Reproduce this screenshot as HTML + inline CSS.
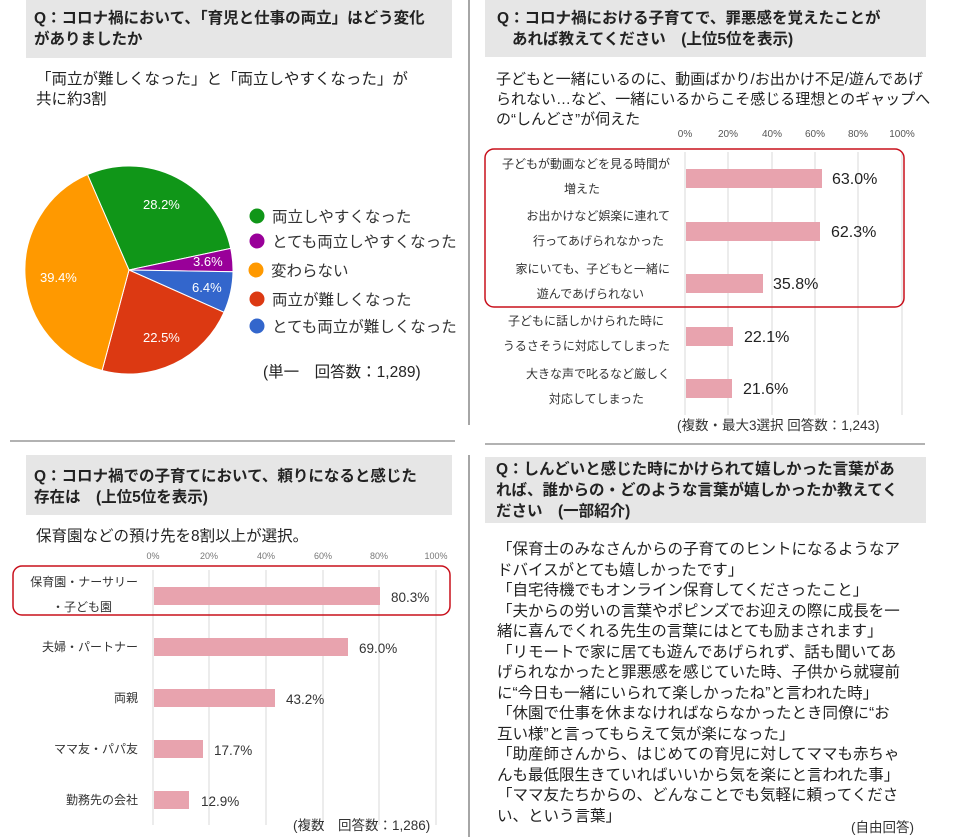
<!DOCTYPE html>
<html><head><meta charset="utf-8"><style>
html,body{margin:0;padding:0;background:#fff;width:965px;height:837px;overflow:hidden}
svg{display:block;font-family:"Liberation Sans","Noto Sans CJK JP",sans-serif}
.h{font-weight:bold;font-size:15.5px;fill:#222}
.s{font-size:15.5px;fill:#222}
.l{font-size:12px;fill:#333}
.t{font-size:10px;fill:#555}
.v{font-size:16px;fill:#222}
.v2{font-size:13.5px;fill:#333}
</style></head><body>
<svg width="965" height="837" viewBox="0 0 965 837">
<line x1="469" y1="0" x2="469" y2="425" stroke="#888" stroke-width="1.5"/>
<line x1="469" y1="455" x2="469" y2="837" stroke="#888" stroke-width="1.5"/>
<line x1="10" y1="441" x2="455" y2="441" stroke="#666" stroke-width="1"/>
<line x1="485" y1="444" x2="925" y2="444" stroke="#666" stroke-width="1"/>

<rect x="26" y="0" width="426" height="58" fill="#e6e6e6"/>
<text class="h" x="34" y="23">Q：コロナ禍において、「育児と仕事の両立」はどう変化</text>
<text class="h" x="34" y="44">がありましたか</text>
<text class="s" x="36" y="84">「両立が難しくなった」と「両立しやすくなった」が</text>
<text class="s" x="36" y="104">共に約3割</text>
<g stroke="#fff" stroke-width="1">
<path d="M129,270 L87.5,174.6 A104,104 0 0 1 230.7,248.4 Z" fill="#109618"/>
<path d="M129,270 L230.7,248.4 A104,104 0 0 1 233,271.8 Z" fill="#990099"/>
<path d="M129,270 L233,271.8 A104,104 0 0 1 224,312.3 Z" fill="#3366cc"/>
<path d="M129,270 L224,312.3 A104,104 0 0 1 102.1,370.5 Z" fill="#dc3912"/>
<path d="M129,270 L102.1,370.5 A104,104 0 0 1 87.5,174.6 Z" fill="#ff9900"/>
</g>
<g font-size="13px" fill="#fff">
<text x="143" y="209">28.2%</text>
<text x="193" y="266">3.6%</text>
<text x="192" y="292">6.4%</text>
<text x="143" y="342">22.5%</text>
<text x="40" y="282">39.4%</text>
</g>
<circle cx="257" cy="216" r="7.5" fill="#109618"/>
<circle cx="257" cy="241" r="7.5" fill="#990099"/>
<circle cx="256" cy="270" r="7.5" fill="#ff9900"/>
<circle cx="257" cy="299" r="7.5" fill="#dc3912"/>
<circle cx="257" cy="326" r="7.5" fill="#3366cc"/>
<g class="s" style="fill:#333">
<text x="272" y="222">両立しやすくなった</text>
<text x="272" y="247">とても両立しやすくなった</text>
<text x="271" y="276">変わらない</text>
<text x="272" y="305">両立が難しくなった</text>
<text x="272" y="332">とても両立が難しくなった</text>
</g>
<text class="s" x="263" y="377">(単一　回答数：1,289)</text>

<rect x="485" y="0" width="441" height="57" fill="#e6e6e6"/>
<text class="h" x="497" y="23">Q：コロナ禍における子育てで、罪悪感を覚えたことが</text>
<text class="h" x="512" y="44">あれば教えてください　(上位5位を表示)</text>
<g style="font-size:15px;fill:#222">
<text x="496" y="84">子どもと一緒にいるのに、動画ばかり/お出かけ不足/遊んであげ</text>
<text x="496" y="104">られない…など、一緒にいるからこそ感じる理想とのギャップへ</text>
<text x="496" y="124">の“しんどさ”が伺えた</text>
</g>
<g class="t" text-anchor="middle">
<text x="685" y="137">0%</text><text x="728" y="137">20%</text><text x="772" y="137">40%</text><text x="815" y="137">60%</text><text x="858" y="137">80%</text><text x="902" y="137">100%</text>
</g>
<g stroke="#d9d9d9" stroke-width="1">
<line x1="685" y1="152" x2="685" y2="415"/><line x1="728" y1="152" x2="728" y2="415"/><line x1="772" y1="152" x2="772" y2="415"/><line x1="815" y1="152" x2="815" y2="415"/><line x1="858" y1="152" x2="858" y2="415"/><line x1="902" y1="152" x2="902" y2="415"/>
</g>
<g fill="#e8a3ae">
<rect x="686" y="169" width="136" height="19"/>
<rect x="686" y="222" width="134" height="19"/>
<rect x="686" y="274" width="77" height="19"/>
<rect x="686" y="327" width="47" height="19"/>
<rect x="686" y="379" width="46" height="19"/>
</g>
<g class="v">
<text x="832" y="184">63.0%</text>
<text x="831" y="237">62.3%</text>
<text x="773" y="289">35.8%</text>
<text x="744" y="342">22.1%</text>
<text x="743" y="394">21.6%</text>
</g>
<g class="l" text-anchor="end">
<text x="670" y="168">子どもが動画などを見る時間が</text>
<text x="600" y="193">増えた</text>
<text x="670" y="220">お出かけなど娯楽に連れて</text>
<text x="664" y="245">行ってあげられなかった</text>
<text x="670" y="273">家にいても、子どもと一緒に</text>
<text x="644" y="298">遊んであげられない</text>
<text x="664" y="325">子どもに話しかけられた時に</text>
<text x="670" y="350">うるさそうに対応してしまった</text>
<text x="670" y="378">大きな声で叱るなど厳しく</text>
<text x="644" y="403">対応してしまった</text>
</g>
<rect x="485" y="149" width="419" height="158" rx="9" fill="none" stroke="#c8101c" stroke-width="1.5"/>
<text class="v2" x="677" y="430">(複数・最大3選択 回答数：1,243)</text>

<rect x="26" y="455" width="426" height="60" fill="#e6e6e6"/>
<text class="h" x="34" y="481">Q：コロナ禍での子育てにおいて、頼りになると感じた</text>
<text class="h" x="34" y="502">存在は　(上位5位を表示)</text>
<text class="s" x="36" y="541">保育園などの預け先を8割以上が選択。</text>
<g class="t" text-anchor="middle" style="font-size:9px;fill:#777">
<text x="153" y="559">0%</text><text x="209" y="559">20%</text><text x="266" y="559">40%</text><text x="323" y="559">60%</text><text x="379" y="559">80%</text><text x="436" y="559">100%</text>
</g>
<g stroke="#d9d9d9" stroke-width="1">
<line x1="153" y1="570" x2="153" y2="825"/><line x1="209" y1="570" x2="209" y2="825"/><line x1="266" y1="570" x2="266" y2="825"/><line x1="323" y1="570" x2="323" y2="825"/><line x1="379" y1="570" x2="379" y2="825"/><line x1="436" y1="570" x2="436" y2="825"/>
</g>
<g fill="#e8a3ae">
<rect x="154" y="587" width="226" height="18"/>
<rect x="154" y="638" width="194" height="18"/>
<rect x="154" y="689" width="121" height="18"/>
<rect x="154" y="740" width="49" height="18"/>
<rect x="154" y="791" width="35" height="18"/>
</g>
<g font-size="13.5px" fill="#333">
<text x="391" y="602">80.3%</text>
<text x="359" y="653">69.0%</text>
<text x="286" y="704">43.2%</text>
<text x="214" y="755">17.7%</text>
<text x="201" y="806">12.9%</text>
</g>
<g class="l" text-anchor="end">
<text x="138" y="586">保育園・ナーサリー</text>
<text x="112" y="611">・子ども園</text>
<text x="138" y="651">夫婦・パートナー</text>
<text x="138" y="702">両親</text>
<text x="138" y="753">ママ友・パパ友</text>
<text x="138" y="804">勤務先の会社</text>
</g>
<rect x="13" y="566" width="437" height="49" rx="9" fill="none" stroke="#c8101c" stroke-width="1.5"/>
<text class="v2" x="293" y="830">(複数　回答数：1,286)</text>

<rect x="485" y="457" width="441" height="66" fill="#e6e6e6"/>
<text class="h" x="496" y="474">Q：しんどいと感じた時にかけられて嬉しかった言葉があ</text>
<text class="h" x="496" y="495">れば、誰からの・どのような言葉が嬉しかったか教えてく</text>
<text class="h" x="496" y="516">ださい　(一部紹介)</text>
<g class="s">
<text x="497" y="554">「保育士のみなさんからの子育てのヒントになるようなア</text>
<text x="497" y="575">ドバイスがとても嬉しかったです」</text>
<text x="497" y="595">「自宅待機でもオンライン保育してくださったこと」</text>
<text x="497" y="616">「夫からの労いの言葉やポピンズでお迎えの際に成長を一</text>
<text x="497" y="636">緒に喜んでくれる先生の言葉にはとても励まされます」</text>
<text x="497" y="657">「リモートで家に居ても遊んであげられず、話も聞いてあ</text>
<text x="497" y="677">げられなかったと罪悪感を感じていた時、子供から就寝前</text>
<text x="497" y="698">に“今日も一緒にいられて楽しかったね”と言われた時」</text>
<text x="497" y="718">「休園で仕事を休まなければならなかったとき同僚に“お</text>
<text x="497" y="739">互い様”と言ってもらえて気が楽になった」</text>
<text x="497" y="759">「助産師さんから、はじめての育児に対してママも赤ちゃ</text>
<text x="497" y="780">んも最低限生きていればいいから気を楽にと言われた事」</text>
<text x="497" y="800">「ママ友たちからの、どんなことでも気軽に頼ってくださ</text>
<text x="497" y="821">い、という言葉」</text>
</g>
<text class="v2" x="851" y="832">(自由回答)</text>
</svg>
</body></html>
